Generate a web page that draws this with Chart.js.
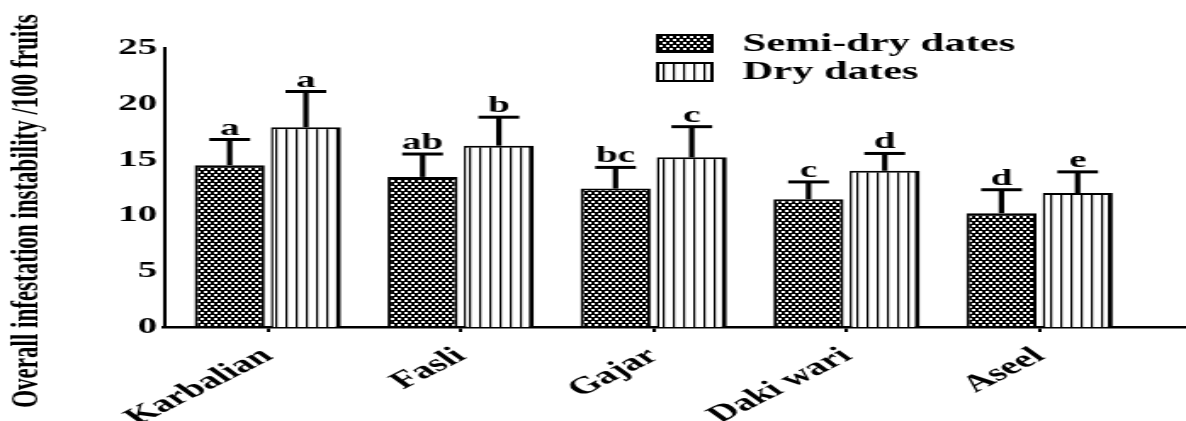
<!DOCTYPE html>
<html>
<head>
<meta charset="utf-8">
<script src="https://cdn.jsdelivr.net/npm/chart.js@4/dist/chart.umd.min.js"></script>
<style>
  html, body { margin: 0; padding: 0; background: #fff; overflow: hidden; }
  #myChart { display: block; }
</style>
</head>
<body>
<!-- the original figure is stretched sideways, so the canvas is too -->
<canvas id="myChart" width="698" height="421" style="width:1186px;height:421px"></canvas>
<script>
"use strict";

// data
const categories = ["Karbalian", "Fasli", "Gajar", "Daki wari", "Aseel"];
const semiDry = [14.5, 13.45, 12.4, 11.45, 10.2];
const semiDryErr = [2.3, 2.05, 1.9, 1.55, 2.1];
const semiDryLetters = ["a", "ab", "bc", "c", "d"];
const dry = [17.9, 16.25, 15.2, 14.0, 12.0];
const dryErr = [3.2, 2.55, 2.75, 1.55, 1.9];
const dryLetters = ["a", "b", "c", "d", "e"];
const yTicks = [0, 5, 10, 15, 20, 25];
const yTitle = "Overall infestation instability /100 fruits";

const serif = "'Liberation Serif', 'Times New Roman', serif";

// fill patterns
function checkPattern(ctx) {
  let c = document.createElement("canvas");
  c.width = 4;
  c.height = 6;
  let p = c.getContext("2d");
  p.fillStyle = "#fff";
  p.fillRect(0, 0, 4, 6);
  p.fillStyle = "#000";
  p.fillRect(0, 0, 2, 3);
  p.fillRect(2, 3, 2, 3);
  p.fillRect(0, 2, 4, 1);
  p.fillRect(0, 5, 4, 1);
  return ctx.createPattern(c, "repeat");
}

function stripePattern(ctx) {
  let c = document.createElement("canvas");
  c.width = 6;
  c.height = 4;
  let p = c.getContext("2d");
  p.fillStyle = "#fff";
  p.fillRect(0, 0, 6, 4);
  p.fillStyle = "#000";
  p.fillRect(0, 0, 1.2, 4);
  return ctx.createPattern(c, "repeat");
}

const canvasEl = document.getElementById("myChart");
const ctx = canvasEl.getContext("2d");
const checkFill = checkPattern(ctx);
const stripeFill = stripePattern(ctx);

// error bars, letters, legend and y title
const extrasPlugin = {
  id: "extras",
  afterDatasetsDraw(chart) {
    const c = chart.ctx;
    const yScale = chart.scales.y;
    const errs = [semiDryErr, dryErr];
    const letters = [semiDryLetters, dryLetters];
    c.save();
    c.strokeStyle = "#000";
    c.fillStyle = "#000";
    for (let d = 0; d < 2; d++) {
      const meta = chart.getDatasetMeta(d);
      const vals = chart.data.datasets[d].data;
      for (let i = 0; i < meta.data.length; i++) {
        const bar = meta.data[i];
        const top = yScale.getPixelForValue(vals[i].y);
        const cap = yScale.getPixelForValue(vals[i].y + errs[d][i]);
        c.lineWidth = 3.2;
        c.beginPath();
        c.moveTo(bar.x, top);
        c.lineTo(bar.x, cap);
        c.stroke();
        c.lineWidth = 3;
        c.beginPath();
        c.moveTo(bar.x - 12, cap);
        c.lineTo(bar.x + 12, cap);
        c.stroke();
        c.font = "bold 23px " + serif;
        c.textAlign = "center";
        c.textBaseline = "alphabetic";
        c.fillText(letters[d][i], bar.x, cap - 5);
      }
    }

    // legend
    const items = [
      { label: chart.data.datasets[0].label, fill: checkFill, y: 35, h: 17 },
      { label: chart.data.datasets[1].label, fill: stripeFill, y: 63, h: 18 },
    ];
    items.forEach((it) => {
      c.fillStyle = it.fill;
      c.fillRect(387, it.y, 32, it.h);
      c.lineWidth = 2;
      c.strokeStyle = "#000";
      c.strokeRect(387, it.y, 32, it.h);
      c.fillStyle = "#000";
      c.font = "bold 25px " + serif;
      c.textAlign = "left";
      c.textBaseline = "middle";
      c.fillText(it.label, 437, it.y + it.h / 2 + 1);
    });

    // y axis title
    c.translate(15.6, 211);
    c.rotate(-Math.PI / 2);
    c.font = "bold 23px " + serif;
    c.textAlign = "center";
    c.textBaseline = "middle";
    c.fillStyle = "#000";
    c.fillText(yTitle, 0, 0);
    c.restore();
  },
};

const data = {
  datasets: [
    {
      label: "Semi-dry dates",
      data: categories.map((c, i) => ({ x: i, y: semiDry[i] })),
      backgroundColor: checkFill,
      borderColor: "#000",
      borderWidth: { left: 2, right: 2, top: 2, bottom: 0 },
      borderSkipped: false,
      categoryPercentage: 0.79,
      barPercentage: 0.92,
    },
    {
      label: "Dry dates",
      data: categories.map((c, i) => ({ x: i, y: dry[i] })),
      backgroundColor: stripeFill,
      borderColor: "#000",
      borderWidth: { left: 1.5, right: 3, top: 2, bottom: 0 },
      borderSkipped: false,
      categoryPercentage: 0.79,
      barPercentage: 0.92,
    },
  ],
};

const config = {
  type: "bar",
  data: data,
  plugins: [extrasPlugin],
  options: {
    responsive: false,
    animation: false,
    devicePixelRatio: 1,
    layout: { padding: { top: 48, right: 0, left: 0, bottom: 0 } },
    plugins: {
      legend: { display: false },
      tooltip: { enabled: false },
    },
    scales: {
      x: {
        type: "linear",
        offset: false,
        min: -0.538,
        max: 4.759,
        afterFit(scale) {
          scale.height = 94;
        },
        afterBuildTicks(scale) {
          scale.ticks = categories.map((c, i) => ({ value: i }));
        },
        grid: {
          display: true,
          offset: false,
          drawOnChartArea: false,
          drawTicks: true,
          tickLength: 5,
          color: "#000",
          lineWidth: 2,
        },
        border: { display: true, color: "#000", width: 2.5 },
        ticks: {
          autoSkip: false,
          maxRotation: 40,
          minRotation: 40,
          padding: 10,
          color: "#000",
          font: { family: serif, size: 24, weight: "bold" },
          callback: (v) => categories[v],
        },
      },
      y: {
        min: 0,
        max: 25,
        afterFit(scale) {
          scale.width = 96.5;
        },
        afterBuildTicks(scale) {
          scale.ticks = yTicks.map((v) => ({ value: v }));
        },
        grid: { display: false, drawTicks: false },
        border: { display: true, color: "#000", width: 2 },
        ticks: {
          padding: 4,
          color: "#000",
          font: { family: serif, size: 23, weight: "bold" },
        },
      },
    },
  },
};

const myChart = new Chart(canvasEl, config);
</script>
</body>
</html>
